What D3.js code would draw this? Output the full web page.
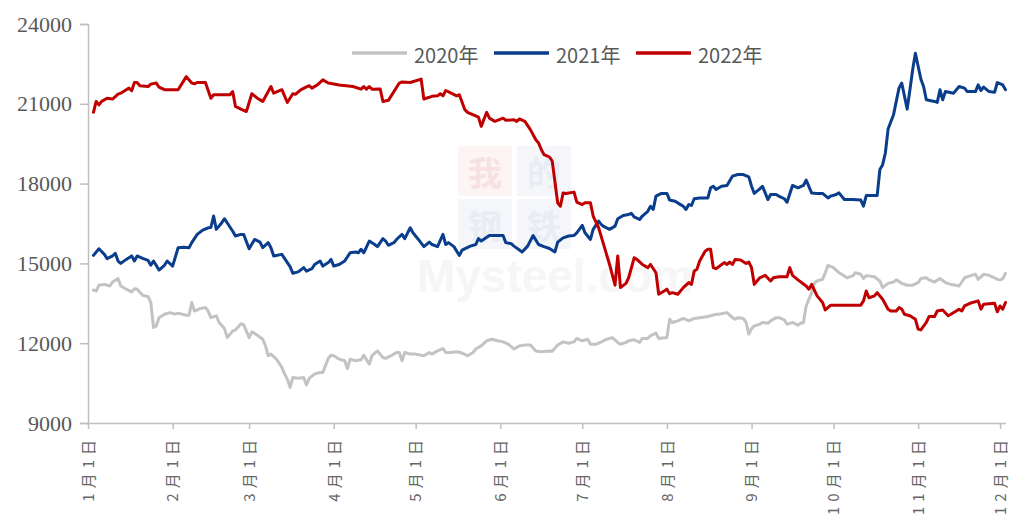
<!DOCTYPE html>
<html>
<head>
<meta charset="utf-8">
<script src="https://cdn.jsdelivr.net/npm/d3@7"></script>
<style>
  html, body { margin: 0; padding: 0; background: #ffffff; }
  svg { display: block; }
</style>
</head>
<body>
<svg id="chart" width="1015" height="523"></svg>
<script>
// Daily price series by year (dates within the year, values in 元/吨)
const dates2020 = ["1-3","1-4","1-5","1-7","1-9","1-10","1-12","1-13","1-15","1-17","1-18","1-19","1-21","1-23","1-24","1-25","1-26","1-27","1-29","1-31",
  "2-2","2-3","2-6","2-7","2-8","2-9","2-11","2-13","2-14","2-15","2-17","2-18","2-20","2-21","2-23","2-24","2-26","2-27",
  "3-1","3-2","3-4","3-6","3-7","3-8","3-9","3-11","3-13","3-14","3-15","3-16","3-17","3-19","3-21","3-22","3-23","3-25","3-27","3-28","3-30","3-31",
  "4-1","4-3","4-5","4-6","4-7","4-9","4-11","4-12","4-14","4-15","4-17","4-19","4-20","4-22","4-24","4-25","4-26","4-27","4-29",
  "5-1","5-4","5-6","5-7","5-9","5-11","5-12","5-14","5-16","5-18","5-20","5-22","5-23","5-25","5-27","5-29","5-31",
  "6-2","6-4","6-6","6-8","6-10","6-12","6-14","6-16","6-19","6-20","6-22","6-24","6-26","6-28","6-29",
  "7-1","7-3","7-4","7-6","7-8","7-10","7-12","7-14","7-15","7-17","7-18","7-20","7-22","7-23","7-25","7-26","7-28","7-29",
  "8-1","8-2","8-3","8-5","8-7","8-9","8-11","8-13","8-16","8-17","8-19","8-20","8-22","8-23","8-25","8-26","8-27","8-29","8-30","8-31",
  "9-1","9-2","9-4","9-5","9-7","9-8","9-10","9-11","9-13","9-14","9-16","9-18","9-19","9-20","9-21","9-23","9-24","9-25","9-27","9-28","9-29",
  "10-1","10-3","10-4","10-6","10-8","10-9","10-11","10-12","10-13","10-16","10-18","10-19","10-21","10-23","10-24","10-26","10-28","10-30",
  "11-1","11-2","11-4","11-5","11-7","11-9","11-11","11-13","11-15","11-16","11-17","11-18","11-20","11-22","11-23","11-25","11-27","11-29","11-30",
  "12-1","12-2","12-3"];
const values2020 = [14000,13960,14180,14210,14150,14300,14430,14150,14030,13930,14050,14030,13800,13750,13530,12590,12650,12960,13090,13150,
  13090,13130,13050,13050,13530,13210,13300,13340,13210,12960,13030,12780,12550,12210,12460,12500,12730,12700,
  12210,12430,12300,12150,11900,11530,11590,11400,11090,10840,10650,10340,10710,10680,10710,10430,10680,10840,10900,10900,11430,11550,
  11530,11400,11340,11050,11400,11340,11380,11550,11210,11530,11710,11460,11430,11530,11650,11650,11340,11650,11590,
  11590,11530,11650,11590,11710,11800,11650,11650,11680,11630,11530,11650,11780,11900,12090,12150,12090,
  12050,11960,11780,11900,11930,11930,11710,11680,11710,11700,11930,12050,12000,12050,12180,
  12090,12150,11960,11960,12050,12150,12210,12030,11960,12030,12090,12130,12030,12180,12180,12280,12380,12180,
  12210,12900,12780,12840,12930,12840,12930,12960,13000,13030,13090,13090,13130,13150,12960,12900,12960,12930,12780,12340,
  12550,12650,12710,12780,12750,12840,12960,12960,12880,12710,12780,12680,12750,12780,13400,13900,14250,14340,14400,14650,14930,
  14840,14650,14590,14460,14530,14650,14590,14430,14540,14500,14340,14090,14250,14300,14380,14250,14180,14180,
  14280,14430,14460,14380,14300,14430,14280,14210,14180,14150,14300,14460,14530,14590,14400,14590,14550,14460,14400,
  14380,14430,14630];

const dates2021 = ["1-3","1-5","1-7","1-8","1-10","1-11","1-12","1-13","1-15","1-17","1-18","1-19","1-21","1-23","1-24","1-25","1-27","1-29","1-30",
  "2-1","2-3","2-5","2-7","2-8","2-10","2-12","2-14","2-15","2-16","2-17","2-19","2-20","2-23","2-24","2-26","2-27",
  "3-1","3-3","3-5","3-6","3-8","3-9","3-10","3-13","3-15","3-16","3-17","3-19","3-21","3-22","3-24","3-25","3-27","3-28","3-30","3-31",
  "4-1","4-3","4-5","4-7","4-9","4-10","4-11","4-12","4-14","4-16","4-17","4-19","4-20","4-21","4-23","4-24","4-25","4-26","4-27","4-29","4-30",
  "5-2","5-4","5-6","5-7","5-9","5-11","5-12","5-13","5-15","5-17","5-18","5-21","5-23","5-24","5-25","5-28","5-30",
  "6-2","6-3","6-5","6-6","6-9","6-11","6-13","6-15","6-17","6-19","6-21","6-22","6-24","6-26","6-28","6-29",
  "7-1","7-2","7-4","7-5","7-7","7-8","7-9","7-11","7-13","7-14","7-16","7-18","7-19","7-20","7-22","7-23","7-25","7-26","7-27","7-28","7-30",
  "8-1","8-2","8-4","8-6","8-7","8-8","8-9","8-10","8-11","8-13","8-16","8-17","8-18","8-19","8-21","8-23","8-25","8-27","8-29","8-31",
  "9-1","9-2","9-4","9-5","9-7","9-8","9-10","9-11","9-13","9-14","9-16","9-18","9-20","9-21","9-23","9-25","9-27","9-29","9-30",
  "10-2","10-3","10-5","10-8","10-11","10-12","10-13","10-17","10-18","10-19","10-20","10-21","10-23","10-24","10-25","10-26","10-28","10-29","10-30","10-31",
  "11-2","11-3","11-4","11-7","11-8","11-9","11-10","11-11","11-14","11-16","11-18","11-19","11-22","11-23","11-24","11-25","11-27","11-29","11-30",
  "12-2","12-3"];
const values2021 = [15300,15550,15340,15180,15280,15380,15090,15000,15150,15280,15090,15280,15190,15110,14930,15090,14750,14930,15090,
  14900,15590,15610,15590,15780,16090,16250,16340,16350,16780,16280,16530,16680,16210,16030,16090,16090,
  15550,15900,15800,15590,15780,15590,15280,15340,15030,14880,14630,14680,14840,14710,14800,14960,15090,14900,15030,15150,
  14900,14960,15090,15400,15430,15400,15530,15400,15840,15710,15630,15930,15840,15680,15780,15900,16000,16090,15930,16340,16150,
  15900,15630,15800,15710,15630,16090,15710,15780,15630,15300,15500,15650,15710,15930,15840,16050,16050,
  16050,15780,15740,15650,15430,15650,16050,15710,15630,15560,15430,15800,15960,16030,16050,16150,
  16430,16150,15900,16280,16590,16460,16380,16280,16400,16680,16800,16840,16880,16750,16650,16780,16960,17150,17030,17530,17630,
  17630,17380,17340,17210,17150,17030,17210,17180,17430,17460,17460,17840,17900,17780,17900,17930,18280,18340,18340,18250,
  17900,17630,17800,17900,17400,17590,17590,17530,17430,17300,17930,17840,17930,18130,17650,17630,17630,17460,17530,
  17590,17650,17400,17400,17380,17150,17550,17550,18530,18710,19150,20050,20590,21090,21590,21780,20800,21530,22280,22900,
  21930,21650,21150,21090,21050,21530,21150,21460,21400,21650,21590,21460,21460,21710,21500,21630,21460,21430,21800,
  21710,21530];

const dates2022 = ["1-3","1-4","1-5","1-6","1-8","1-10","1-12","1-13","1-15","1-16","1-17","1-18","1-19","1-20","1-23","1-24","1-26","1-27","1-29",
  "2-3","2-6","2-8","2-9","2-10","2-13","2-15","2-16","2-22","2-23","2-24","2-26","2-28",
  "3-2","3-4","3-6","3-9","3-10","3-13","3-15","3-17","3-18","3-20","3-23","3-24","3-26","3-28","3-30",
  "4-3","4-8","4-11","4-12","4-13","4-14","4-15","4-18","4-19","4-21","4-25","4-26","4-29",
  "5-3","5-4","5-7","5-9","5-10","5-11","5-12","5-14","5-16","5-17","5-19","5-20","5-24","5-25","5-27","5-28","5-30",
  "6-2","6-3","6-6","6-7","6-8","6-10","6-12","6-14","6-15","6-16","6-17","6-19","6-20","6-22","6-23","6-24","6-25","6-28","6-29",
  "7-1","7-2","7-4","7-5","7-7","7-9","7-11","7-13","7-14","7-15","7-17","7-18","7-20","7-21","7-23","7-25","7-26","7-28","7-29","7-31",
  "8-1","8-2","8-3","8-5","8-7","8-9","8-10","8-11","8-12","8-13","8-15","8-16","8-17","8-18","8-19","8-22","8-23","8-24","8-25","8-26","8-28","8-30","8-31",
  "9-1","9-2","9-4","9-6","9-8","9-9","9-11","9-14","9-15","9-16","9-18","9-21","9-22","9-23","9-25","9-27","9-28","9-30",
  "10-11","10-12","10-13","10-14","10-16","10-17","10-19","10-21","10-22","10-24","10-25","10-26","10-27","10-29","10-31",
  "11-1","11-2","11-4","11-5","11-7","11-8","11-10","11-12","11-13","11-16","11-17","11-18","11-20","11-23","11-24","11-25","11-29","11-30",
  "12-1","12-2","12-3"];
const values2022 = [20680,21090,20960,21090,21210,21180,21360,21400,21530,21590,21490,21800,21800,21680,21650,21740,21780,21630,21530,
  21530,22020,21780,21750,21800,21800,21210,21340,21340,21460,20900,20800,20710,
  21380,21210,21090,21650,21400,21530,21050,21380,21360,21530,21680,21590,21710,21900,21780,
  21710,21650,21550,21650,21550,21650,21550,21560,21090,21130,21780,21820,21800,
  21930,21180,21280,21300,21380,21300,21500,21400,21300,21340,20780,20680,20500,20150,20680,20460,20340,
  20460,20380,20400,20340,20430,20340,20030,19650,19530,19280,19090,19000,18850,17280,17150,17650,17630,17680,17300,
  17210,17280,17280,16780,16340,15650,14960,14180,15280,14090,14250,14460,15210,15150,14960,14840,14960,14650,13840,13960,
  14030,13860,13900,13840,14090,14280,14210,14710,14780,15090,15460,15530,15530,14840,14800,15030,14960,15050,14960,15150,15130,15000,15050,
  14840,14210,14460,14550,14340,14460,14500,14500,14840,14550,14380,14150,14030,14210,13780,13530,13250,13430,
  13430,13590,13960,13710,13780,13900,13650,13280,13210,13210,13340,13280,13090,13030,12900,
  12530,12500,12780,13000,13000,13210,13250,13030,13090,13280,13210,13400,13500,13590,13280,13460,13500,13180,
  13400,13280,13530];

const seriesNames = ["2020年", "2021年", "2022年"];
const seriesColors = ["#c3c3c3", "#0a3d8b", "#c00000"];
const yTicks = [9000, 12000, 15000, 18000, 21000, 24000];
const monthLabels = ["1月1日","2月1日","3月1日","4月1日","5月1日","6月1日","7月1日","8月1日","9月1日","10月1日","11月1日","12月1日"];

const parseDay = d3.timeParse("%Y-%m-%d");
const toSeries = (dates, values) => dates.map((d, i) => ({ date: parseDay("2022-" + d), value: values[i] }));
const series = [
  toSeries(dates2020, values2020),
  toSeries(dates2021, values2021),
  toSeries(dates2022, values2022)
];

const svg = d3.select("#chart");
const plot = { left: 88, right: 1005.5, top: 24, bottom: 423 };

const x = d3.scaleTime()
  .domain([new Date(2022, 0, 1), new Date(2022, 11, 3)])
  .range([plot.left, plot.right]);
const y = d3.scaleLinear()
  .domain([9000, 24000])
  .range([plot.bottom, plot.top]);

// Faint publisher watermark behind the data
const wm = svg.append("g").attr("class", "watermark");
const wmCells = [
  { ch: "我", cx: 485, cy: 171, fill: "#fdf4f4", color: "#f7e1e1" },
  { ch: "的", cx: 544, cy: 171, fill: "#f4f6fa", color: "#e8edf4" },
  { ch: "钢", cx: 485, cy: 224, fill: "#f4f6fa", color: "#e8edf4" },
  { ch: "铁", cx: 544, cy: 224, fill: "#f4f6fa", color: "#e8edf4" }
];
wmCells.forEach(c => {
  wm.append("rect").attr("x", c.cx - 27).attr("y", c.cy - 25).attr("width", 54).attr("height", 50).attr("fill", c.fill);
  wm.append("text").attr("x", c.cx).attr("y", c.cy).attr("text-anchor", "middle").attr("dominant-baseline", "central")
    .attr("font-family", "Noto Sans CJK SC").attr("font-weight", "bold").attr("font-size", 34).attr("fill", c.color).text(c.ch);
});
wm.append("text").attr("x", 555).attr("y", 276).attr("text-anchor", "middle").attr("dominant-baseline", "central")
  .attr("font-family", "Arial, Liberation Sans, sans-serif").attr("font-weight", "bold").attr("font-size", 46)
  .attr("fill", "#f6f6f6").text("Mysteel.com");

// Y axis
const yAxis = svg.append("g")
  .attr("transform", `translate(${plot.left},0)`)
  .call(d3.axisLeft(y).tickValues(yTicks).tickSize(8).tickPadding(8).tickFormat(d3.format("d")));
yAxis.select(".domain").attr("stroke", "#bfbfbf").attr("stroke-width", 1.5);
yAxis.selectAll(".tick line").attr("stroke", "#bfbfbf").attr("stroke-width", 1.5);
yAxis.selectAll(".tick text")
  .attr("font-family", "Liberation Serif, Times New Roman, serif")
  .attr("font-size", 22).attr("fill", "#595959");

// X axis with rotated month labels
const xAxis = svg.append("g")
  .attr("transform", `translate(0,${plot.bottom})`)
  .call(d3.axisBottom(x)
    .tickValues(d3.range(12).map(m => new Date(2022, m, 1)))
    .tickSize(6).tickSizeOuter(0)
    .tickFormat((d, i) => monthLabels[i]));
xAxis.select(".domain").attr("stroke", "#bfbfbf").attr("stroke-width", 1.5);
xAxis.selectAll(".tick line").attr("stroke", "#bfbfbf").attr("stroke-width", 1.5);
xAxis.selectAll(".tick text")
  .attr("font-family", "Noto Sans CJK SC, sans-serif")
  .attr("font-size", 15).attr("fill", "#666666")
  .attr("letter-spacing", "5px")
  .attr("transform", "rotate(-90)")
  .attr("text-anchor", "end")
  .attr("x", -12).attr("y", 0).attr("dy", "0.35em");

// Price lines, 2020 drawn first so 2022 sits on top
const line = d3.line().x(d => x(d.date)).y(d => y(d.value));
svg.append("g").selectAll("path")
  .data(series)
  .join("path")
  .attr("d", line)
  .attr("fill", "none")
  .attr("stroke", (d, i) => seriesColors[i])
  .attr("stroke-width", 3)
  .attr("stroke-linejoin", "round")
  .attr("stroke-linecap", "round");

// Legend across the top
const legendX = d3.scaleOrdinal().domain(seriesNames).range([352, 494, 636]);
const legend = svg.append("g").selectAll("g")
  .data(seriesNames)
  .join("g")
  .attr("transform", d => `translate(${legendX(d)},53)`);
legend.append("line")
  .attr("x1", 0).attr("x2", 55).attr("y1", 0).attr("y2", 0)
  .attr("stroke", (d, i) => seriesColors[i]).attr("stroke-width", 3.5);
legend.append("text")
  .attr("x", 62).attr("y", 1).attr("dominant-baseline", "central")
  .attr("font-family", "Noto Sans CJK SC, sans-serif")
  .attr("font-size", 20).attr("fill", "#595959")
  .text(d => d);
</script>
</body>
</html>
